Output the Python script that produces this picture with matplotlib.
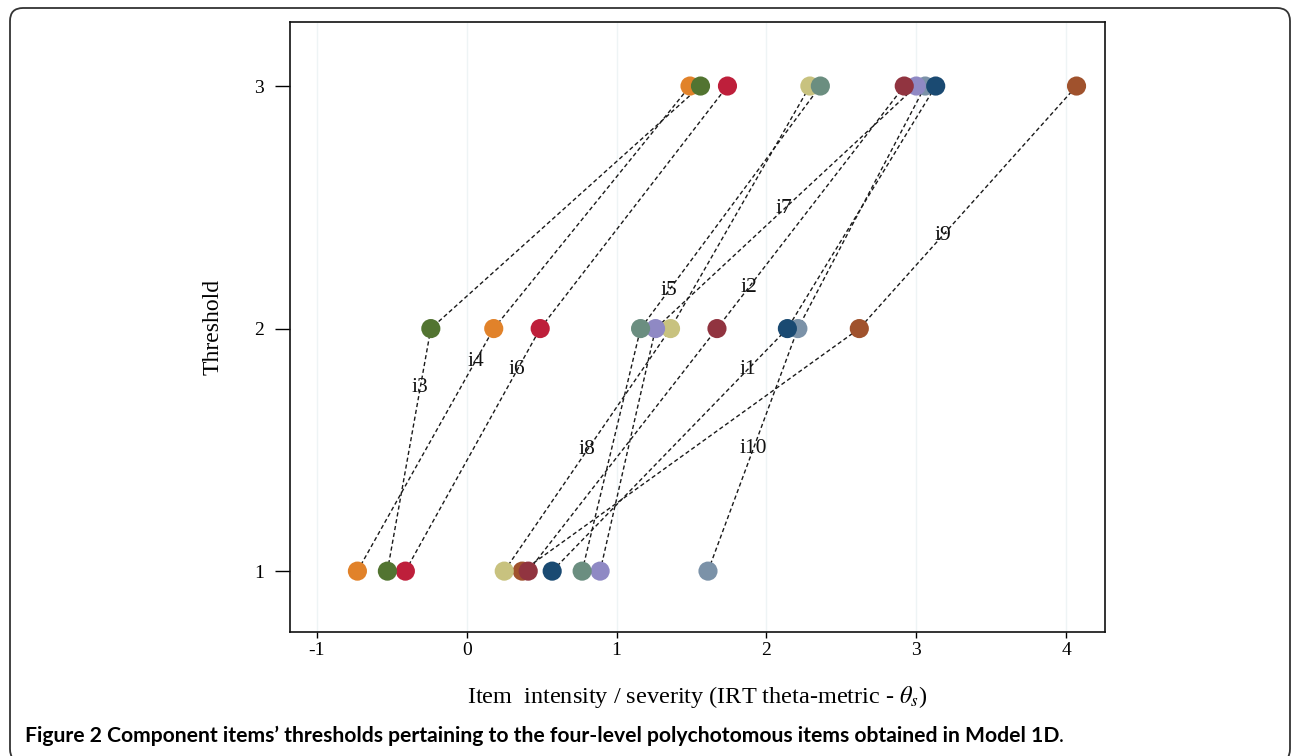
import matplotlib
matplotlib.use("Agg")
import matplotlib.pyplot as plt
import numpy as np
from matplotlib.patches import FancyBboxPatch
from matplotlib.transforms import IdentityTransform

# ---- data ----
items = ["i1", "i2", "i3", "i4", "i5", "i6", "i7", "i8", "i9", "i10"]
thr1 = [0.57, 0.41, -0.53, -0.73, 0.77, -0.41, 0.89, 0.25, 0.37, 1.61]
thr2 = [2.14, 1.67, -0.24, 0.18, 1.16, 0.49, 1.26, 1.36, 2.62, 2.21]
thr3 = [3.13, 2.92, 1.56, 1.49, 2.36, 1.74, 3.00, 2.29, 4.07, 3.06]
threshold_levels = [1, 2, 3]
item_colors = ["#1a4a72", "#913440", "#527431", "#e1822a", "#6b8e80",
               "#be1f3b", "#8f89c4", "#c8c27f", "#a0522d", "#7b92a8"]
label_levels = [1.83, 2.17, 1.755, 1.866, 2.157, 1.83, 2.494, 1.50, 2.383, 1.506]
xticks = [-1, 0, 1, 2, 3, 4]
yticks = [1, 2, 3]

plt.rcParams['font.family'] = ['Liberation Serif', 'DejaVu Serif']
plt.rcParams['mathtext.fontset'] = 'stix'

W, H = 1292, 756
fig = plt.figure(figsize=(W / 100, H / 100), dpi=100)
ax = fig.add_axes([290 / W, 1 - 632 / H, (1105 - 290) / W, (632 - 22) / H])

for i, name in enumerate(items):
    xs = [thr1[i], thr2[i], thr3[i]]
    ax.plot(xs, threshold_levels, linestyle=(0, (3.0, 2.0)), color="#1a1a1a",
            linewidth=1.0, zorder=2)

for i, name in enumerate(items):
    xs = [thr1[i], thr2[i], thr3[i]]
    ax.scatter(xs, threshold_levels, s=190, color=item_colors[i],
               edgecolors='none', zorder=3 + (10 - i) * 0.01)

for i, name in enumerate(items):
    xs = [thr1[i], thr2[i], thr3[i]]
    ly = label_levels[i]
    lx = np.interp(ly, threshold_levels, xs)
    ax.text(lx, ly, name, ha='center', va='center', fontsize=15.5,
            color='#111111', zorder=5)

ax.set_xlim(-1.18, 4.26)
ax.set_ylim(0.749, 3.264)
ax.set_xticks(xticks)
ax.set_xticklabels([str(v) for v in xticks])
ax.set_yticks(yticks)
ax.set_yticklabels([str(v) for v in yticks])
ax.tick_params(axis='x', length=4.5, width=1, labelsize=14, pad=3)
ax.tick_params(axis='y', length=11, width=1, labelsize=14, pad=8)
for v in xticks:
    ax.axvline(v, color='#eef4f5', linewidth=1.0, zorder=0)
for sp in ax.spines.values():
    sp.set_linewidth(1.2)
    sp.set_color('#111111')

ax.set_ylabel("Threshold", fontsize=17, labelpad=22)
ax.set_xlabel(r"Item  intensity / severity (IRT theta-metric - $\theta_s$)",
              fontsize=17.5, labelpad=18)

cap = fig.text(25 / W, 1 - 736 / H, "Figure 2 Component items\u2019 thresholds pertaining to the four-level polychotomous items obtained in Model 1D",
               fontsize=15.2, fontweight='bold', family=['Lato', 'DejaVu Sans'],
               ha='left', va='center')
fig.canvas.draw()
bb = cap.get_window_extent()
fig.text(bb.x1 / W, 1 - 736 / H, ".", fontsize=15.2, family=['Lato', 'DejaVu Sans'],
         ha='left', va='center')

# outer rounded frame (pixel coordinates, origin bottom-left)
box = FancyBboxPatch((10, -6), 1280, (H - 8) + 6,
                     boxstyle="round,pad=0,rounding_size=13",
                     transform=IdentityTransform(), fill=False,
                     edgecolor='#333333', linewidth=1.3, clip_on=False)
fig.patches.append(box)

fig.savefig("out.png", dpi=100)
